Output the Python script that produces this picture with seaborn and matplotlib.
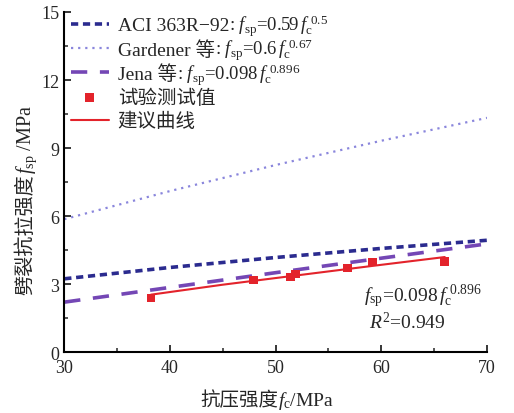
import matplotlib
matplotlib.use('Agg')
import matplotlib.pyplot as plt
from matplotlib.transforms import IdentityTransform
import seaborn as sns
import pandas as pd

# curve samples
fc_curve = [30, 40, 50, 60, 70]
aci_vals = [3.23, 3.73, 4.17, 4.57, 4.93]
gardener_vals = [5.86, 7.10, 8.25, 9.32, 10.33]
jena_vals = [2.20, 2.85, 3.50, 4.14, 4.77]

# test data
fc_test = [38.2, 47.9, 51.4, 51.9, 56.8, 59.2, 66.0]
fsp_test = [2.38, 3.18, 3.31, 3.44, 3.71, 3.97, 4.01]

# fitted curve
fc_fit = [38.2, 45.0, 52.0, 59.0, 66.0]
fsp_fit = [2.53, 2.97, 3.38, 3.79, 4.19]

sns.set_style('white')
plt.rcParams['font.family'] = ['Liberation Serif', 'Noto Sans CJK SC']
plt.rcParams['mathtext.fontset'] = 'custom'
plt.rcParams['mathtext.rm'] = 'Liberation Serif'
plt.rcParams['mathtext.it'] = 'Liberation Serif:italic'

LEG_FS = 14

df_curve = pd.DataFrame({'fc': fc_curve, 'aci': aci_vals,
                         'gardener': gardener_vals, 'jena': jena_vals})
df_test = pd.DataFrame({'fc': fc_test, 'fsp': fsp_test})
df_fit = pd.DataFrame({'fc': fc_fit, 'fsp': fsp_fit})

fig, ax = plt.subplots(figsize=(5.14, 4.14), dpi=100)

sns.lineplot(data=df_curve, x='fc', y='aci', ax=ax, color='#2b2b8f', lw=2.6,
             label='ACI 363R−92')
ax.lines[-1].set_dashes((2.0, 1.3))
sns.lineplot(data=df_curve, x='fc', y='gardener', ax=ax, color='#8a86dc', lw=1.6,
             label='Gardener 等')
ax.lines[-1].set_dashes((1.0, 2.2))
sns.lineplot(data=df_curve, x='fc', y='jena', ax=ax, color='#7447b5', lw=2.6,
             label='Jena 等')
ax.lines[-1].set_dashes((4.5, 3.5))
sns.scatterplot(data=df_test, x='fc', y='fsp', ax=ax, color='#e3232b', marker='s',
                s=40, edgecolor='none', label='试验测试值', zorder=5)
sns.lineplot(data=df_fit, x='fc', y='fsp', ax=ax, color='#e3232b', lw=1.5,
             label='建议曲线')

ax.set_xlim(30, 70)
ax.set_ylim(0, 15)
ax.set_xticks([30, 40, 50, 60, 70])
ax.set_yticks([0, 3, 6, 9, 12, 15])
ax.set_xticks([35, 45, 55, 65], minor=True)
ax.set_yticks([1.5, 4.5, 7.5, 10.5, 13.5], minor=True)
ax.tick_params(which='major', direction='in', length=5, width=1.3, labelsize=13)
ax.tick_params(which='minor', direction='in', length=3, width=1.1)
ax.tick_params(axis='both', which='both', bottom=True, left=True)
ax.tick_params(axis='x', pad=5)
ax.spines['top'].set_visible(False)
ax.spines['right'].set_visible(False)
for s in ['left', 'bottom']:
    ax.spines[s].set_color('black')
    ax.spines[s].set_linewidth(1.5)
ax.set_xlabel('')
ax.set_ylabel('')

ax.text(58.4, 2.25, r'$f_{\rm sp}$=0.098$\,f_{\rm c}^{\ 0.896}$', fontsize=14)
ax.text(58.8, 1.05, r'$R^2$=0.949', fontsize=14)

leg = ax.legend(loc='upper left', bbox_to_anchor=(-0.012, 1.02), frameon=False,
                fontsize=LEG_FS, handlelength=1.95, handletextpad=0.46,
                labelspacing=0.28, borderaxespad=0.2)

fig.subplots_adjust(left=0.125, right=0.9475, top=0.9686, bottom=0.1473)
fig.canvas.draw()
renderer = fig.canvas.get_renderer()


def chain(pieces, x, y, size, rotation=0):
    # lay out text pieces one after another on a shared baseline (display px)
    for s in pieces:
        t = fig.text(x, y, s, transform=IdentityTransform(), fontsize=size,
                     ha='left', va='baseline', rotation=rotation,
                     rotation_mode='anchor')
        bb = t.get_window_extent(renderer)
        if rotation == 0:
            x += bb.width
        else:
            y += bb.height


# legend labels stay plain text, the formula goes after them in mathtext
suffixes = {'ACI 363R−92': r': $f_{\rm sp}$=0.59$\,f_{\rm c}^{\ 0.5}$',
            'Gardener 等': r': $f_{\rm sp}$=0.6$\,f_{\rm c}^{\ 0.67}$',
            'Jena 等': r': $f_{\rm sp}$=0.098$\,f_{\rm c}^{\ 0.896}$'}
for txt in leg.get_texts():
    if txt.get_text() in suffixes:
        bb = txt.get_window_extent(renderer)
        bx, by = txt.get_transform().transform(txt.get_position())
        chain([suffixes[txt.get_text()]], bb.x1, by, LEG_FS - 0.5)

# axis titles, in display pixels measured from the bottom-left corner
chain(['抗压强度', r'$f_{\rm c}$/MPa'], 200, 8, 14)
chain(['劈裂抗拉强度', r'$f_{\rm sp}$ /MPa'], 31, 119, 14.5, rotation=90)

fig.savefig('out.png', dpi=100)
plt.close(fig)
